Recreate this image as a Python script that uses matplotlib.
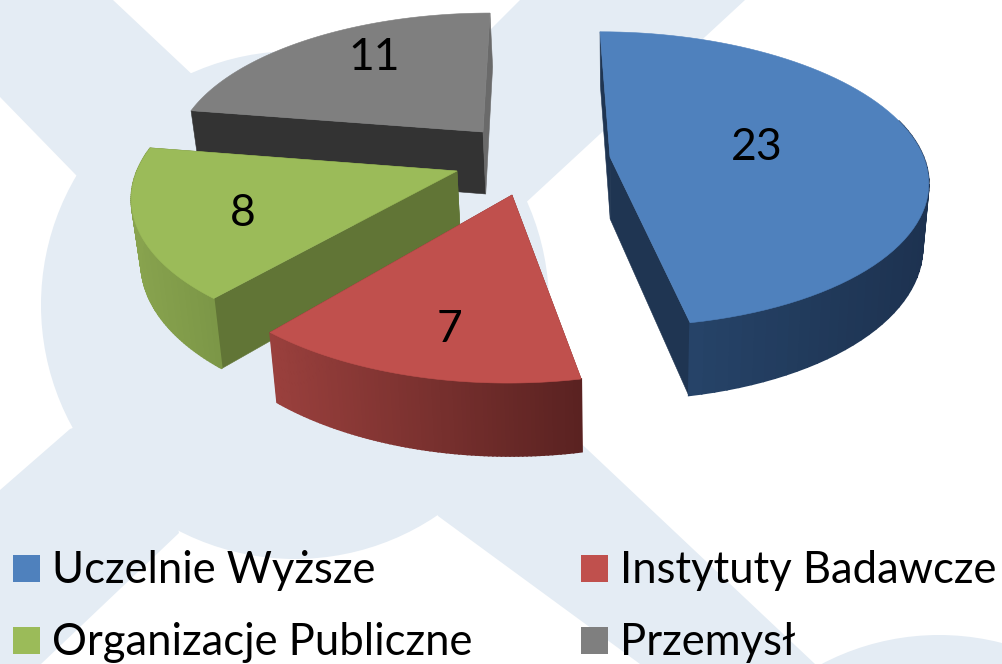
import numpy as np
import matplotlib
matplotlib.use("Agg")
import matplotlib.pyplot as plt
from matplotlib.patches import Circle, Polygon, Rectangle
from matplotlib.colors import to_rgb

categories = ["Uczelnie Wyższe", "Instytuty Badawcze", "Organizacje Publiczne", "Przemysł"]
values = [23, 7, 8, 11]

top_colors = ["#4f81bd", "#c0504d", "#9bbb59", "#7f7f7f"]
face_colors = ["#1f3552", "#7a2f2d", "#617536", "#333333"]
side_left = ["#264469", "#9a403d", "#88a34e", "#4d4d4d"]
side_right = ["#1d3250", "#5a2221", "#7c9747", "#4d4d4d"]

# where each exploded slice sits, apex in pixels, and its own stretch
apex = [(610, 157), (512, 195), (457, 171), (483, 132)]
stretch_x = [0.98, 1.02, 1.0, 0.95]
stretch_y = [1.0, 1.11, 1.03, 0.95]
skew = [-10, 4, 12, 7]
label_pos = [(757, 148), (450, 330), (243, 213), (374, 57)]
legend_pos = [(13, 555), (581, 555), (13, 627), (581, 627)]

RX, RY, PERSP, DEPTH = 320, 144, 0.15, 62
BG = "#e4ecf4"


def project(i, theta):
    f = 1 / (1 + PERSP * np.cos(theta))
    x = apex[i][0] + stretch_x[i] * RX * np.sin(theta) * f + skew[i] * np.cos(theta)
    y = apex[i][1] - stretch_y[i] * RY * np.cos(theta) * f
    return x, y, f


def drop(x, y, f):
    # vertical edges lean slightly toward the middle of the picture
    return x + (620 - x) * 0.02, y + DEPTH * f


def draw_slice(ax, i, t0, t1):
    thetas = np.linspace(t0, t1, 80)
    x, y, f = project(i, thetas)
    xb, yb = drop(x, y, f)
    ax0, ay0 = apex[i]
    axb, ayb = drop(ax0, ay0, 1.0)

    # radial faces
    for k, col in ((0, face_colors[i]), (-1, face_colors[i])):
        if i == 3 and k == -1:
            col = "#6a6a6a"
        ax.add_patch(Polygon([(ax0, ay0), (x[k], y[k]), (xb[k], yb[k]), (axb, ayb)],
                             fc=col, ec=col, lw=0.4))

    # outer rim, shaded left to right (the grey slice has its rim at the back)
    if i != 3:
        c0 = np.array(to_rgb(side_left[i]))
        c1 = np.array(to_rgb(side_right[i]))
        xmin, xmax = x[y > ay0].min() if (y > ay0).any() else x.min(), x.max()
        for j in range(len(thetas) - 1):
            if y[j] < ay0 - 40:
                continue
            t = np.clip((x[j] - xmin) / (xmax - xmin), 0, 1)
            col = c0 + (c1 - c0) * t
            ax.add_patch(Polygon([(x[j], y[j]), (x[j + 1], y[j + 1]),
                                  (xb[j + 1], yb[j + 1]), (xb[j], yb[j])],
                                 fc=col, ec=col, lw=1.2))

    # top surface
    top = [(ax0, ay0)] + list(zip(x, y))
    ax.add_patch(Polygon(top, fc=top_colors[i], ec=top_colors[i], lw=0.4))


fig = plt.figure(figsize=(10.02, 6.64), dpi=100)
ax = fig.add_axes([0, 0, 1, 1])
ax.set_xlim(0, 1002)
ax.set_ylim(664, 0)
ax.axis("off")
plt.rcParams["font.family"] = ["Lato", "DejaVu Sans"]

# watermark behind the chart
ax.add_patch(Circle((295, 305), 254, fc=BG, ec="none"))
ax.add_patch(Circle((939, 887), 252, fc=BG, ec="none"))
ax.add_patch(Polygon([(0, 0), (113, 0), (230, 110), (110, 210), (0, 97)], fc=BG, ec="none"))
ax.add_patch(Polygon([(520, 0), (745, 0), (480, 245), (400, 120)], fc=BG, ec="none"))
ax.add_patch(Polygon([(70, 429), (0, 490), (0, 664), (41, 664), (179, 533), (150, 400)], fc=BG, ec="none"))
ax.add_patch(Polygon([(438, 516), (640, 664), (815, 664), (535, 400), (400, 400)], fc=BG, ec="none"))

edges = np.cumsum([0] + values) / sum(values) * 2 * np.pi
for i in [3, 2, 1, 0]:
    draw_slice(ax, i, edges[i], edges[i + 1])

for v, (lx, ly) in zip(values, label_pos):
    ax.text(lx, ly, str(v), fontsize=32, color="black", ha="center", va="center")

for name, col, (sx, sy) in zip(categories, top_colors, legend_pos):
    ax.add_patch(Rectangle((sx, sy), 27, 27, fc=col, ec="none"))
    ax.text(sx + 39, sy + 28, name, fontsize=31.4, color="black", ha="left", va="baseline")

fig.savefig("out.png", dpi=100)
